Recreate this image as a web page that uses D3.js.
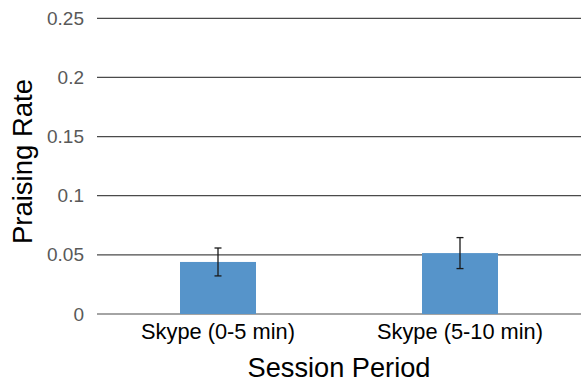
<!DOCTYPE html>
<html>
<head>
<meta charset="utf-8">
<script src="https://cdn.jsdelivr.net/npm/d3@7"></script>
<style>
  body { margin: 0; background: #fff; }
  text { font-family: "Liberation Sans", Arial, sans-serif; }
</style>
</head>
<body>
<div id="chart"></div>
<script>
// chart data
var categories = ["Skype (0-5 min)", "Skype (5-10 min)"];
var rates = [0.044, 0.0515];
var errors = [0.0118, 0.0131];
var yTicks = [0, 0.05, 0.1, 0.15, 0.2, 0.25];
var yTickLabels = ["0", "0.05", "0.1", "0.15", "0.2", "0.25"];

var data = categories.map(function (c, i) {
  return { cat: c, rate: rates[i], err: errors[i] };
});

var width = 581, height = 384;
var margin = { top: 18.3, right: 0, bottom: 70, left: 97 };

var svg = d3.select("#chart").append("svg")
  .attr("width", width)
  .attr("height", height);

var x = d3.scaleBand()
  .domain(categories)
  .range([margin.left, width - margin.right])
  .paddingInner(0.686)
  .paddingOuter(0.343);

var y = d3.scaleLinear()
  .domain([0, 0.25])
  .range([314, margin.top]);

// gridlines
svg.append("g")
  .attr("class", "grid")
  .selectAll("line")
  .data(yTicks)
  .enter().append("line")
  .attr("x1", margin.left)
  .attr("x2", width - margin.right)
  .attr("y1", function (d) { return y(d); })
  .attr("y2", function (d) { return y(d); })
  .attr("stroke", "#4a4a4a")
  .attr("stroke-width", 1.2);

// y axis labels
var yAxis = d3.axisLeft(y)
  .tickValues(yTicks)
  .tickFormat(function (d, i) { return yTickLabels[i]; })
  .tickSize(0)
  .tickPadding(13);

svg.append("g")
  .attr("class", "y-axis")
  .attr("transform", "translate(" + margin.left + ",0)")
  .call(yAxis)
  .call(function (g) { g.select(".domain").remove(); })
  .selectAll("text")
  .attr("font-size", 19)
  .attr("font-family", "Liberation Sans, Arial, sans-serif")
  .attr("fill", "#595959");

// bars
svg.selectAll(".bar")
  .data(data)
  .enter().append("rect")
  .attr("class", "bar")
  .attr("x", function (d) { return x(d.cat); })
  .attr("width", x.bandwidth())
  .attr("y", function (d) { return y(d.rate); })
  .attr("height", function (d) { return y(0) - y(d.rate); })
  .attr("fill", "#5694ca");

// error bars
var eb = svg.selectAll(".err")
  .data(data)
  .enter().append("g")
  .attr("class", "err")
  .attr("stroke", "#1a1a1a")
  .attr("stroke-width", 1.3);

eb.append("line")
  .attr("x1", function (d) { return x(d.cat) + x.bandwidth() / 2; })
  .attr("x2", function (d) { return x(d.cat) + x.bandwidth() / 2; })
  .attr("y1", function (d) { return y(d.rate + d.err); })
  .attr("y2", function (d) { return y(d.rate - d.err); });

[1, -1].forEach(function (s) {
  eb.append("line")
    .attr("x1", function (d) { return x(d.cat) + x.bandwidth() / 2 - 3.5; })
    .attr("x2", function (d) { return x(d.cat) + x.bandwidth() / 2 + 3.5; })
    .attr("y1", function (d) { return y(d.rate + s * d.err); })
    .attr("y2", function (d) { return y(d.rate + s * d.err); });
});

// x axis labels
var xAxis = d3.axisBottom(x).tickSize(0).tickPadding(0);
svg.append("g")
  .attr("class", "x-axis")
  .attr("transform", "translate(0," + y(0) + ")")
  .call(xAxis)
  .call(function (g) { g.select(".domain").remove(); })
  .selectAll("text")
  .attr("dy", null)
  .attr("y", 24.5)
  .attr("font-size", 21.8)
  .attr("font-family", "Liberation Sans, Arial, sans-serif")
  .attr("fill", "#000");

// axis titles
svg.append("text")
  .attr("x", (margin.left + width - margin.right) / 2)
  .attr("y", 377)
  .attr("text-anchor", "middle")
  .attr("font-size", 27.2)
  .attr("fill", "#000")
  .text("Session Period");

svg.append("text")
  .attr("transform", "translate(31.5,161.5) rotate(-90)")
  .attr("text-anchor", "middle")
  .attr("font-size", 27.5)
  .attr("fill", "#000")
  .text("Praising Rate");
</script>
</body>
</html>
